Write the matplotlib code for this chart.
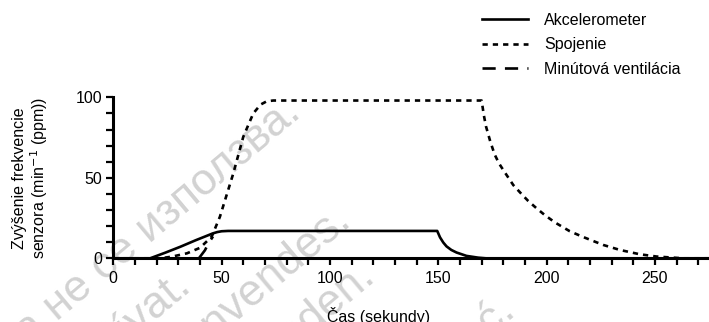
import matplotlib.pyplot as plt
from matplotlib.ticker import MultipleLocator

plt.rcParams['font.family'] = ['Liberation Sans', 'DejaVu Sans']

# Akcelerometer (solid)
accel_t = [0, 17, 24, 31, 38, 46, 48, 50, 53, 149.5, 150.8, 152.3, 153.8, 156, 158.4, 163, 168.4, 172, 280]
accel_v = [0, 0, 3.5, 7.2, 11.2, 15.5, 16.3, 16.8, 17.0, 17.0, 13.0, 9.8, 7.4, 5.2, 3.6, 1.5, 0.4, 0, 0]

# Spojenie (dotted)
spoj_t = [0, 21.5, 27, 34, 40, 45.4, 49.2, 55.4, 60, 64.6, 68, 70.8, 73.8, 170, 171, 172, 174, 176,
          178, 180, 184.6, 188.5, 191.5, 195.4, 199.2, 203.8, 210.7, 216.9, 226.1, 233.8, 243,
          250.7, 263, 280]
spoj_v = [0, 0, 1, 3.1, 6.5, 13.4, 25.8, 52.8, 75.5, 90, 95.5, 97.5, 98, 98, 89, 82, 72.5, 64.5,
          59, 54.8, 45.5, 39.8, 35.6, 31, 26.8, 22.3, 16.8, 13.2, 8.3, 5.2, 2.5,
          1.1, 0, 0]

# Minutova ventilacia (long dash)
mv_t = [39.5, 42.3, 44, 46]
mv_v = [0, 5, 9.5, 13.5]

labels = ['Akcelerometer', 'Spojenie', 'Minútová ventilácia']

# watermark texts and their end points (pixels)
wm_texts = ['Остаряла версия. Да не се използва.', 'Zastaralá verze. Nepoužívat.',
            'Forældet version. Må ikke anvendes.', 'Veraltete Version. Nicht verwenden.',
            'Wersja przeterminowana. Nie używać.']
wm_ends = [(303, 116), (193, 290), (353, 224), (377, 280), (517, 314)]

W, H = 709, 322
fig = plt.figure(figsize=(W / 100, H / 100), dpi=100)
ax = fig.add_axes([113.3 / W, 1 - 258.3 / H, 598 / W, 161 / H])

for txt, (px, py) in zip(wm_texts, wm_ends):
    ax.text(px / W, 1 - py / H, txt, transform=fig.transFigure, fontsize=32,
            color='#d2d2d2', rotation=40, rotation_mode='anchor', ha='right',
            va='baseline', zorder=0, clip_on=False)

lw = 1.9
ax.plot(accel_t, accel_v, color='black', lw=lw, label=labels[0], zorder=3)
ax.plot(spoj_t, spoj_v, color='black', lw=lw, ls=(0, (2.0, 1.9)), label=labels[1], zorder=3)
ax.plot(mv_t, mv_v, color='black', lw=lw, ls=(0, (5, 3.5)), label=labels[2], zorder=3)

ax.set_xlim(0, 276)
ax.set_ylim(0, 100)
ax.set_xticks([0, 50, 100, 150, 200, 250])
ax.set_yticks([0, 50, 100])
ax.xaxis.set_minor_locator(MultipleLocator(10))
ax.yaxis.set_minor_locator(MultipleLocator(10))
ax.tick_params(which='both', direction='out', length=5, width=1.6, labelsize=11.5, pad=3)
ax.tick_params(axis='x', pad=4)
for s in ['top', 'right']:
    ax.spines[s].set_visible(False)
for s in ['left', 'bottom']:
    ax.spines[s].set_linewidth(2.2)
ax.patch.set_alpha(0)

ax.set_xlabel('Čas (sekundy)', fontsize=11.5)
ax.xaxis.set_label_coords((379 - 113.3) / 598, -0.30)
ax.set_ylabel('Zvýšenie frekvencie\nsenzora (min$^{-1}$ (ppm))', fontsize=11.5, linespacing=1.05)
ax.yaxis.set_label_coords((50 - 113.3) / 598, 0.5)

fig.legend(loc='upper left', bbox_to_anchor=(482 / W, 1 - 13 / H), frameon=False,
           fontsize=11.5, handlelength=2.9, handletextpad=1.0, labelspacing=0.58,
           borderpad=0, borderaxespad=0)

fig.savefig('out.png', dpi=100)
